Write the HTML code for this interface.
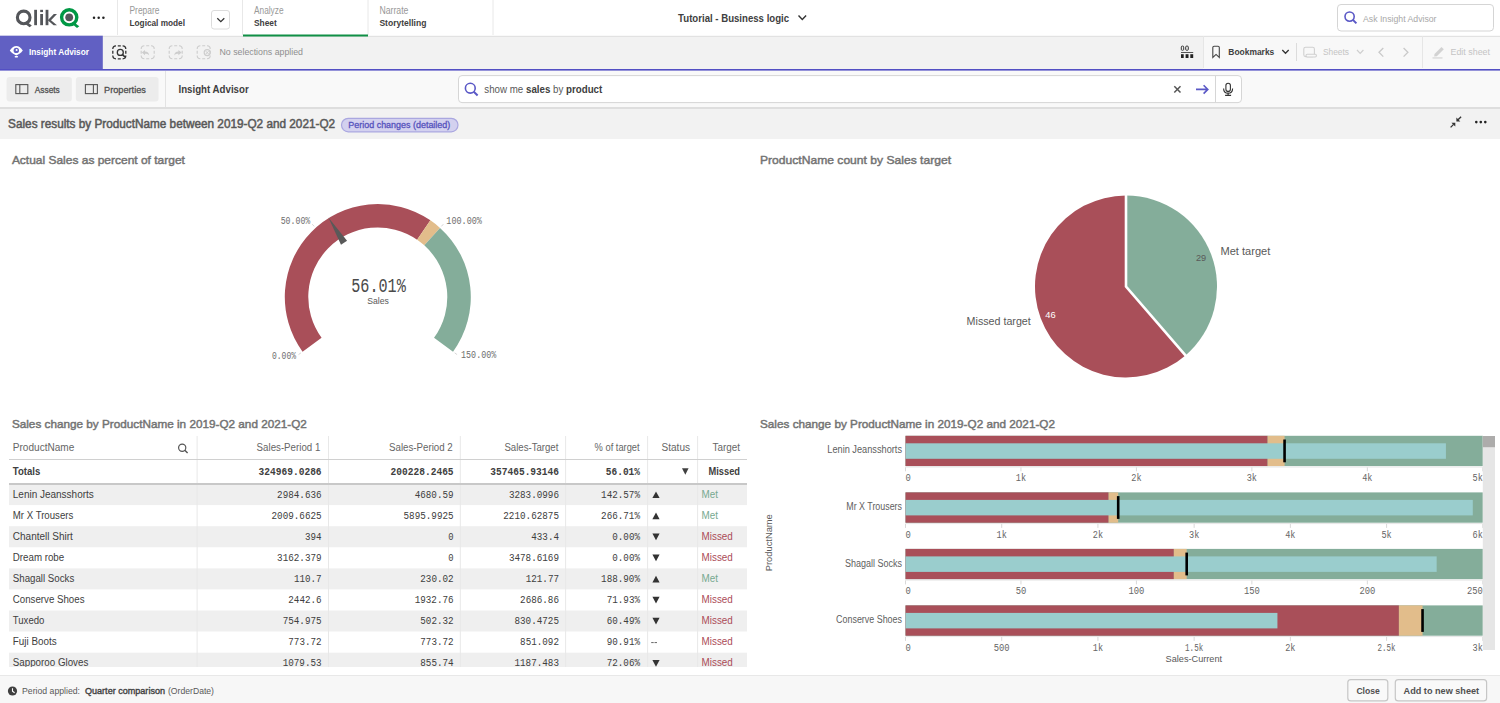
<!DOCTYPE html>
<html><head><meta charset="utf-8"><style>
html,body{margin:0;padding:0;width:1500px;height:703px;overflow:hidden;background:#fff}
svg{display:block;font-family:"Liberation Sans",sans-serif}
</style></head><body>
<svg width="1500" height="703" viewBox="0 0 1500 703">
<rect x="0" y="0" width="1500" height="35" fill="#fff" />
<rect x="0" y="35.8" width="1500" height="1.2" fill="#e2e2e2" />
<g fill="#54565a">
<circle cx="23.7" cy="17.4" r="6.3" fill="none" stroke="#54565a" stroke-width="3.1"/>
<path d="M26.5 21.5 L31.8 25.6 L29.6 27.2 L24.6 23.4Z"/>
<rect x="34.2" y="9.8" width="2.8" height="15.4"/>
<rect x="40.2" y="14" width="2.8" height="11.2"/>
<rect x="40.2" y="9.8" width="2.8" height="2.3"/>
<rect x="45.6" y="9.8" width="2.8" height="15.4"/>
<path d="M48 20 L53.8 14 L57 14 L51 20.2 L57 25.2 L53.6 25.2 L48 20.6Z"/>
</g>
<circle cx="69.2" cy="17.3" r="7.6" fill="none" stroke="#009845" stroke-width="3.4"/>
<circle cx="69.2" cy="17.3" r="3.9" fill="#54565a"/>
<path d="M73.5 22 L79.3 26.3 L77 28 L71.5 23.6Z" fill="#009845"/>
<g fill="#222"><circle cx="94" cy="17.8" r="1.25"/><circle cx="98.7" cy="17.8" r="1.25"/><circle cx="103.4" cy="17.8" r="1.25"/></g>
<line x1="117.5" y1="0" x2="117.5" y2="35" stroke="#e8e8e8" stroke-width="1" />
<line x1="242.5" y1="0" x2="242.5" y2="35" stroke="#e8e8e8" stroke-width="1" />
<line x1="368" y1="0" x2="368" y2="35" stroke="#e8e8e8" stroke-width="1" />
<line x1="493" y1="0" x2="493" y2="35" stroke="#e8e8e8" stroke-width="1" />
<text x="129.5" y="14" font-size="10.2" fill="#999" textLength="30" lengthAdjust="spacingAndGlyphs" >Prepare</text>
<text x="129.5" y="26" font-size="9.5" fill="#404040" font-weight="bold" textLength="55.5" lengthAdjust="spacingAndGlyphs" >Logical model</text>
<rect x="211.5" y="10.5" width="18" height="18.5" rx="2.5" fill="#fff" stroke="#dcdcdc"/>
<path d="M217.3 18.2 L220.8 21.6 L224.3 18.2" fill="none" stroke="#333" stroke-width="1.3"/>
<text x="254" y="14" font-size="10.2" fill="#999" textLength="29.5" lengthAdjust="spacingAndGlyphs" >Analyze</text>
<text x="254" y="26.2" font-size="9.5" fill="#404040" font-weight="bold" textLength="22.8" lengthAdjust="spacingAndGlyphs" >Sheet</text>
<rect x="243" y="34.5" width="125" height="2" fill="#109046" />
<text x="379.4" y="14" font-size="10.2" fill="#999" textLength="29" lengthAdjust="spacingAndGlyphs" >Narrate</text>
<text x="379.4" y="26.2" font-size="9.5" fill="#404040" font-weight="bold" textLength="47" lengthAdjust="spacingAndGlyphs" >Storytelling</text>
<text x="678.1" y="21.5" font-size="10.5" fill="#404040" font-weight="bold" textLength="111" lengthAdjust="spacingAndGlyphs" >Tutorial - Business logic</text>
<path d="M798.5 15.6 L802.3 19.6 L806.1 15.6" fill="none" stroke="#333" stroke-width="1.4"/>
<rect x="1337.5" y="4.5" width="156" height="26.5" rx="3.5" fill="#fff" stroke="#d5d5d5"/>
<circle cx="1349.6" cy="16.6" r="4.6" fill="none" stroke="#5a58c6" stroke-width="1.6"/><path d="M1352.9 19.9 L1356.4 23.4" stroke="#5a58c6" stroke-width="2"/>
<text x="1363" y="21.5" font-size="9.5" fill="#a8a8a8" textLength="73.5" lengthAdjust="spacingAndGlyphs" >Ask Insight Advisor</text>
<rect x="0" y="37" width="1500" height="32" fill="#f2f2f2" />
<rect x="1203" y="37" width="297" height="32" fill="#f8f8f8" />
<line x1="1203.5" y1="36" x2="1203.5" y2="68" stroke="#e6e6e6" stroke-width="1" />
<rect x="0" y="35.7" width="102.8" height="33.3" fill="#6160c3" />
<path d="M9.8 50.6 C12 47.3 14 46 16.3 46 C18.6 46 20.6 47.3 22.8 50.6 C21 53 18.8 54.6 16.3 55.4 C13.8 54.6 11.6 53 9.8 50.6Z" fill="#fff"/><circle cx="16.3" cy="50.4" r="2.7" fill="#6160c3"/><circle cx="16.6" cy="50.1" r="1" fill="#fff"/><rect x="14.6" y="55.9" width="3.5" height="1.6" rx="0.8" fill="#fff"/>
<text x="29" y="55.2" font-size="9.6" fill="#fff" font-weight="bold" textLength="60" lengthAdjust="spacingAndGlyphs" >Insight Advisor</text>
<rect x="0" y="69" width="1500" height="2" fill="#534fc4" />
<path d="M112.8 49.0 Q112.8 45.8 116.0 45.8 M117.8 45.8 L120.8 45.8 M122.6 45.8 Q125.8 45.8 125.8 49.0 M125.8 50.8 L125.8 53.8 M125.8 55.599999999999994 Q125.8 58.8 122.6 58.8 M120.8 58.8 L117.8 58.8 M116.0 58.8 Q112.8 58.8 112.8 55.599999999999994 M112.8 53.8 L112.8 50.8" fill="none" stroke="#333" stroke-width="1.3"/>
<circle cx="120.3" cy="52.4" r="3" fill="none" stroke="#333" stroke-width="1.3"/><path d="M122.5 54.6 L125 57" stroke="#333" stroke-width="1.6"/>
<path d="M141.2 49.0 Q141.2 45.8 144.39999999999998 45.8 M146.2 45.8 L149.2 45.8 M151.0 45.8 Q154.2 45.8 154.2 49.0 M154.2 50.8 L154.2 53.8 M154.2 55.599999999999994 Q154.2 58.8 151.0 58.8 M149.2 58.8 L146.2 58.8 M144.39999999999998 58.8 Q141.2 58.8 141.2 55.599999999999994 M141.2 53.8 L141.2 50.8" fill="none" stroke="#cdcdcd" stroke-width="1.1"/>
<path d="M141.8 52.6 L145 50 L145 51.6 C147.5 51.8 149 53 149.2 55.4 C148 54.2 146.8 53.8 145 53.8 L145 55.2Z" fill="#cdcdcd"/>
<path d="M169.2 49.0 Q169.2 45.8 172.39999999999998 45.8 M174.2 45.8 L177.2 45.8 M179.0 45.8 Q182.2 45.8 182.2 49.0 M182.2 50.8 L182.2 53.8 M182.2 55.599999999999994 Q182.2 58.8 179.0 58.8 M177.2 58.8 L174.2 58.8 M172.39999999999998 58.8 Q169.2 58.8 169.2 55.599999999999994 M169.2 53.8 L169.2 50.8" fill="none" stroke="#cdcdcd" stroke-width="1.1"/>
<path d="M181.6 52.6 L178.4 50 L178.4 51.6 C175.9 51.8 174.4 53 174.2 55.4 C175.4 54.2 176.6 53.8 178.4 53.8 L178.4 55.2Z" fill="#cdcdcd"/>
<path d="M197.2 49.0 Q197.2 45.8 200.39999999999998 45.8 M202.2 45.8 L205.2 45.8 M207.0 45.8 Q210.2 45.8 210.2 49.0 M210.2 50.8 L210.2 53.8 M210.2 55.599999999999994 Q210.2 58.8 207.0 58.8 M205.2 58.8 L202.2 58.8 M200.39999999999998 58.8 Q197.2 58.8 197.2 55.599999999999994 M197.2 53.8 L197.2 50.8" fill="none" stroke="#cdcdcd" stroke-width="1.1"/>
<circle cx="207.2" cy="52.6" r="3" fill="none" stroke="#cdcdcd" stroke-width="1.2"/><path d="M205.8 51.2 L208.6 54 M208.6 51.2 L205.8 54" stroke="#cdcdcd" stroke-width="1"/>
<text x="219.5" y="55.4" font-size="9.3" fill="#8f8f8f" textLength="83.5" lengthAdjust="spacingAndGlyphs" >No selections applied</text>
<rect x="1181.3" y="46.1" width="2.4" height="4.2" rx="1" fill="none" stroke="#333" stroke-width="1"/><rect x="1185.7" y="46.1" width="2.6" height="4.2" rx="1" fill="none" stroke="#333" stroke-width="1"/><rect x="1181" y="52" width="12.2" height="0.9" fill="#444"/><rect x="1181" y="54.2" width="2.7" height="3.8" fill="#222"/><rect x="1185.6" y="54.2" width="2.9" height="3.8" fill="#222"/><rect x="1190.3" y="54.2" width="2.9" height="3.8" fill="#222"/>
<path d="M1212.8 57.4 L1212.8 47.6 Q1212.8 46.3 1214.1 46.3 L1218 46.3 Q1219.3 46.3 1219.3 47.6 L1219.3 57.4 L1216.05 54.4Z" fill="none" stroke="#444" stroke-width="1.1" stroke-linejoin="miter"/>
<text x="1228.3" y="54.7" font-size="9.6" fill="#404040" font-weight="bold" textLength="46" lengthAdjust="spacingAndGlyphs" >Bookmarks</text>
<path d="M1282.3 50 L1285.5 53.3 L1288.7 50" fill="none" stroke="#333" stroke-width="1.3"/>
<line x1="1296.5" y1="43" x2="1296.5" y2="61" stroke="#dcdcdc" stroke-width="1" />
<rect x="1303.8" y="47.2" width="10.6" height="9.4" rx="1.8" fill="none" stroke="#d0d0d0" stroke-width="1.1"/><rect x="1306" y="54.2" width="10.4" height="2.8" rx="1.2" fill="#f8f8f8" stroke="#d0d0d0" stroke-width="1.1"/>
<text x="1323" y="54.7" font-size="9.6" fill="#c4c4c4" textLength="26" lengthAdjust="spacingAndGlyphs" >Sheets</text>
<path d="M1357 50 L1360.2 53.3 L1363.4 50" fill="none" stroke="#cfcfcf" stroke-width="1.2"/>
<path d="M1383.3 48 L1379 52.3 L1383.3 56.6" fill="none" stroke="#c9c9c9" stroke-width="1.3"/>
<path d="M1403.6 48 L1407.9 52.3 L1403.6 56.6" fill="none" stroke="#c9c9c9" stroke-width="1.3"/>
<line x1="1422.5" y1="36" x2="1422.5" y2="68" stroke="#e6e6e6" stroke-width="1" />
<path d="M1434.5 54 L1441.5 47 L1443.8 49.3 L1436.8 56.3 L1434.2 56.6Z" fill="#d2d2d2"/><rect x="1432.5" y="57.4" width="10" height="1.1" fill="#d2d2d2"/>
<text x="1450.5" y="54.7" font-size="9.6" fill="#c4c4c4" textLength="39.5" lengthAdjust="spacingAndGlyphs" >Edit sheet</text>
<rect x="0" y="70.6" width="1500" height="37" fill="#f9f9f9" />
<rect x="0" y="107" width="1500" height="2" fill="#dedede" />
<rect x="6.6" y="76.9" width="65.3" height="24.6" rx="3" fill="#ececec"/>
<rect x="15.8" y="84.6" width="12" height="9" fill="none" stroke="#555" stroke-width="1.1"/><line x1="19.8" y1="84.6" x2="19.8" y2="93.6" stroke="#555" stroke-width="1.1"/>
<text x="34.7" y="92.5" font-size="9.8" fill="#505050" textLength="25.1" lengthAdjust="spacingAndGlyphs" stroke="#505050" stroke-width="0.3">Assets</text>
<rect x="75.9" y="76.9" width="82.7" height="24.6" rx="3" fill="#ececec"/>
<rect x="85.4" y="84.6" width="12" height="9" fill="none" stroke="#555" stroke-width="1.1"/><line x1="93.4" y1="84.6" x2="93.4" y2="93.6" stroke="#555" stroke-width="1.1"/>
<text x="104" y="92.5" font-size="9.8" fill="#505050" textLength="41.9" lengthAdjust="spacingAndGlyphs" stroke="#505050" stroke-width="0.3">Properties</text>
<line x1="165.5" y1="71" x2="165.5" y2="107" stroke="#e3e3e3" stroke-width="1" />
<text x="178.5" y="93.1" font-size="10.2" fill="#404040" font-weight="bold" textLength="70.2" lengthAdjust="spacingAndGlyphs" >Insight Advisor</text>
<rect x="458.5" y="75.6" width="783" height="27" rx="3.5" fill="#fff" stroke="#d6d6d6"/>
<line x1="1215.5" y1="76" x2="1215.5" y2="102.5" stroke="#d6d6d6" stroke-width="1" />
<circle cx="470.3" cy="88.2" r="4.9" fill="none" stroke="#5a58c6" stroke-width="1.6"/><path d="M473.8 91.7 L477.6 95.5" stroke="#5a58c6" stroke-width="2"/>
<text x="484.3" y="93.3" font-size="11" fill="#595959" textLength="118" lengthAdjust="spacingAndGlyphs">show me <tspan font-weight="bold" fill="#404040">sales</tspan> by <tspan font-weight="bold" fill="#404040">product</tspan></text>
<path d="M1174.3 86.3 L1180.5 92.5 M1180.5 86.3 L1174.3 92.5" stroke="#555" stroke-width="1.5"/>
<path d="M1196 89.4 L1207.8 89.4 M1203.6 85.2 L1207.8 89.4 L1203.6 93.6" fill="none" stroke="#5a58c6" stroke-width="1.6"/>
<rect x="1225.9" y="83.2" width="4.5" height="8.2" rx="2.25" fill="none" stroke="#333" stroke-width="1.1"/><path d="M1223.6 88.4 C1223.6 91.8 1225.5 93.1 1228.1 93.1 C1230.7 93.1 1232.6 91.8 1232.6 88.4" fill="none" stroke="#333" stroke-width="1.1"/><path d="M1228.1 93.1 L1228.1 95 M1225.1 95.4 L1231.1 95.4" stroke="#333" stroke-width="1.2"/>
<rect x="0" y="109" width="1500" height="30" fill="#f2f2f2" />
<text x="8.1" y="128.3" font-size="12" fill="#595959" textLength="327" lengthAdjust="spacingAndGlyphs" stroke="#595959" stroke-width="0.5">Sales results by ProductName between 2019-Q2 and 2021-Q2</text>
<rect x="341.5" y="118.3" width="116.5" height="13.5" rx="6.75" fill="#d3d1ef" stroke="#aaa7e0" stroke-width="1.2"/>
<text x="348.3" y="128.2" font-size="9" fill="#5653bd" textLength="102" lengthAdjust="spacingAndGlyphs" stroke="#5653bd" stroke-width="0.3">Period changes (detailed)</text>
<path d="M1451.4 122.7 L1455.3 122.7 L1455.3 126.6Z" fill="#333"/><path d="M1450.6 127.4 L1453.6 124.4" stroke="#333" stroke-width="1.3"/>
<path d="M1456.4 121.4 L1456.4 117.5 L1460.3 121.4Z" fill="#333"/><path d="M1458 119.8 L1461.1 116.7" stroke="#333" stroke-width="1.3"/>
<g fill="#222"><circle cx="1476.3" cy="122.1" r="1.3"/><circle cx="1480.8" cy="122.1" r="1.3"/><circle cx="1485.3" cy="122.1" r="1.3"/></g>
<text x="11.9" y="164.2" font-size="11.5" fill="#737373" textLength="173" lengthAdjust="spacingAndGlyphs" stroke="#737373" stroke-width="0.45">Actual Sales as percent of target</text>
<text x="760" y="164.2" font-size="11.5" fill="#737373" textLength="191" lengthAdjust="spacingAndGlyphs" stroke="#737373" stroke-width="0.45">ProductName count by Sales target</text>
<text x="11.9" y="428.2" font-size="11.5" fill="#737373" textLength="295" lengthAdjust="spacingAndGlyphs" stroke="#737373" stroke-width="0.45">Sales change by ProductName in 2019-Q2 and 2021-Q2</text>
<text x="760" y="428.2" font-size="11.5" fill="#737373" textLength="295" lengthAdjust="spacingAndGlyphs" stroke="#737373" stroke-width="0.45">Sales change by ProductName in 2019-Q2 and 2021-Q2</text>
<path d="M302.56 351.66 A93 93 0 0 1 430.40 220.30 L417.11 239.68 A69.5 69.5 0 0 0 321.57 337.85Z" fill="#a94f59"/>
<path d="M430.40 220.30 A93 93 0 0 1 440.03 227.89 L424.30 245.35 A69.5 69.5 0 0 0 417.11 239.68Z" fill="#e2bd8b"/>
<path d="M440.03 227.89 A93 93 0 0 1 453.04 351.66 L434.03 337.85 A69.5 69.5 0 0 0 424.30 245.35Z" fill="#84ad9a"/>
<path d="M328.39 217.62 L341.00 244.64 L347.06 240.86Z" fill="#595959"/>
<path d="M300.94 352.84 L298.52 354.60" stroke="#ccc" stroke-width="0.8"/>
<path d="M314.23 226.40 L312.23 224.17" stroke="#ccc" stroke-width="0.8"/>
<path d="M441.37 226.40 L443.37 224.17" stroke="#ccc" stroke-width="0.8"/>
<path d="M454.66 352.84 L457.08 354.60" stroke="#ccc" stroke-width="0.8"/>
<text x="351.2" y="291.9" font-size="19.5" fill="#4a4a4a" textLength="54.6" lengthAdjust="spacingAndGlyphs" font-family="Liberation Mono" >56.01%</text>
<text x="367.2" y="303.8" font-size="9.4" fill="#595959" textLength="21.6" lengthAdjust="spacingAndGlyphs" >Sales</text>
<text x="272" y="358.6" font-size="11.2" fill="#6e6e6e" textLength="24" lengthAdjust="spacingAndGlyphs" font-family="Liberation Mono" >0.00%</text>
<text x="280.7" y="223.7" font-size="11.2" fill="#6e6e6e" textLength="29.6" lengthAdjust="spacingAndGlyphs" font-family="Liberation Mono" >50.00%</text>
<text x="446.3" y="223.7" font-size="11.2" fill="#6e6e6e" textLength="35.6" lengthAdjust="spacingAndGlyphs" font-family="Liberation Mono" >100.00%</text>
<text x="461.1" y="357.6" font-size="11.2" fill="#6e6e6e" textLength="35.1" lengthAdjust="spacingAndGlyphs" font-family="Liberation Mono" >150.00%</text>
<path d="M1126 286.5 L1126 195.5 A91 91 0 0 1 1185.46 355.39Z" fill="#84ad9a"/>
<path d="M1126 286.5 L1185.46 355.39 A91 91 0 1 1 1126 195.5Z" fill="#a94f59"/>
<path d="M1126 193.5 L1126 286.5 L1186.77 356.90" fill="none" stroke="#fff" stroke-width="2.6"/>
<text x="1220.5" y="254.5" font-size="10.8" fill="#595959" textLength="49.8" lengthAdjust="spacingAndGlyphs" >Met target</text>
<text x="966.6" y="324.8" font-size="10.8" fill="#595959" textLength="64.2" lengthAdjust="spacingAndGlyphs" >Missed target</text>
<text x="1196" y="260.7" font-size="8.6" fill="#595959" textLength="10.2" lengthAdjust="spacingAndGlyphs" >29</text>
<text x="1045.3" y="317.6" font-size="8.6" fill="#fff" textLength="10.4" lengthAdjust="spacingAndGlyphs" >46</text>
<rect x="9" y="484.1" width="738" height="21" fill="#efefef" />
<rect x="9" y="526.24" width="738" height="21" fill="#efefef" />
<rect x="9" y="568.38" width="738" height="21" fill="#efefef" />
<rect x="9" y="610.52" width="738" height="21" fill="#efefef" />
<rect x="9" y="652.66" width="738" height="21" fill="#efefef" />
<line x1="197.1" y1="436" x2="197.1" y2="667" stroke="#e8e8e8" stroke-width="1" />
<line x1="328.5" y1="436" x2="328.5" y2="667" stroke="#e8e8e8" stroke-width="1" />
<line x1="460.3" y1="436" x2="460.3" y2="667" stroke="#e8e8e8" stroke-width="1" />
<line x1="565.6" y1="436" x2="565.6" y2="667" stroke="#e8e8e8" stroke-width="1" />
<line x1="647.6" y1="436" x2="647.6" y2="667" stroke="#e8e8e8" stroke-width="1" />
<line x1="697.6" y1="436" x2="697.6" y2="667" stroke="#e8e8e8" stroke-width="1" />
<line x1="9" y1="459.5" x2="747" y2="459.5" stroke="#d0d0d0" stroke-width="1" />
<text x="12.8" y="451.2" font-size="10" fill="#666" textLength="61.5" lengthAdjust="spacingAndGlyphs" >ProductName</text>
<circle cx="182.2" cy="447.7" r="3.6" fill="none" stroke="#555" stroke-width="1.2"/><path d="M184.8 450.3 L187.6 453.1" stroke="#555" stroke-width="1.4"/>
<text x="320.3" y="451.2" font-size="10" fill="#666" textLength="63.7" lengthAdjust="spacingAndGlyphs" text-anchor="end" >Sales-Period 1</text>
<text x="452.7" y="451.2" font-size="10" fill="#666" textLength="63.7" lengthAdjust="spacingAndGlyphs" text-anchor="end" >Sales-Period 2</text>
<text x="558.4" y="451.2" font-size="10" fill="#666" textLength="54" lengthAdjust="spacingAndGlyphs" text-anchor="end" >Sales-Target</text>
<text x="639.6" y="451.2" font-size="10" fill="#666" textLength="45" lengthAdjust="spacingAndGlyphs" text-anchor="end" >% of target</text>
<text x="690" y="451.2" font-size="10" fill="#666" textLength="28.5" lengthAdjust="spacingAndGlyphs" text-anchor="end" >Status</text>
<text x="740" y="451.2" font-size="10" fill="#666" textLength="27.5" lengthAdjust="spacingAndGlyphs" text-anchor="end" >Target</text>
<text x="12.8" y="475.4" font-size="10" fill="#404040" font-weight="bold" textLength="27.5" lengthAdjust="spacingAndGlyphs" >Totals</text>
<text x="321.6" y="475.4" font-size="11.6" fill="#404040" font-weight="bold" textLength="63.0" lengthAdjust="spacingAndGlyphs" text-anchor="end" font-family="Liberation Mono" >324969.0286</text>
<text x="453.6" y="475.4" font-size="11.6" fill="#404040" font-weight="bold" textLength="63.0" lengthAdjust="spacingAndGlyphs" text-anchor="end" font-family="Liberation Mono" >200228.2465</text>
<text x="559" y="475.4" font-size="11.6" fill="#404040" font-weight="bold" textLength="68.7" lengthAdjust="spacingAndGlyphs" text-anchor="end" font-family="Liberation Mono" >357465.93146</text>
<text x="640" y="475.4" font-size="11.6" fill="#404040" font-weight="bold" textLength="34.2" lengthAdjust="spacingAndGlyphs" text-anchor="end" font-family="Liberation Mono" >56.01%</text>
<path d="M682 468.3 L688.6 468.3 L685.3 474.8Z" fill="#404040"/>
<text x="740" y="475.4" font-size="10" fill="#404040" font-weight="bold" textLength="31.5" lengthAdjust="spacingAndGlyphs" text-anchor="end" >Missed</text>
<rect x="9" y="483" width="738" height="2" fill="#c8c8c8" />

<text x="12.8" y="497.9" font-size="10" fill="#404040" textLength="81" lengthAdjust="spacingAndGlyphs" >Lenin Jeansshorts</text>
<text x="321.6" y="497.9" font-size="11.4" fill="#404040" textLength="44.5" lengthAdjust="spacingAndGlyphs" text-anchor="end" font-family="Liberation Mono" >2984.636</text>
<text x="453.6" y="497.9" font-size="11.4" fill="#404040" textLength="38.9" lengthAdjust="spacingAndGlyphs" text-anchor="end" font-family="Liberation Mono" >4680.59</text>
<text x="559" y="497.9" font-size="11.4" fill="#404040" textLength="50.1" lengthAdjust="spacingAndGlyphs" text-anchor="end" font-family="Liberation Mono" >3283.0996</text>
<text x="640" y="497.9" font-size="11.4" fill="#404040" textLength="38.9" lengthAdjust="spacingAndGlyphs" text-anchor="end" font-family="Liberation Mono" >142.57%</text>
<path d="M652.4 498.1 L659.6 498.1 L656 491.40000000000003Z" fill="#333"/>
<text x="701.6" y="497.9" font-size="10" fill="#76a98f" textLength="16.4" lengthAdjust="spacingAndGlyphs" >Met</text>
<text x="12.8" y="518.97" font-size="10" fill="#404040" textLength="60.5" lengthAdjust="spacingAndGlyphs" >Mr X Trousers</text>
<text x="321.6" y="518.97" font-size="11.4" fill="#404040" textLength="50.1" lengthAdjust="spacingAndGlyphs" text-anchor="end" font-family="Liberation Mono" >2009.6625</text>
<text x="453.6" y="518.97" font-size="11.4" fill="#404040" textLength="50.1" lengthAdjust="spacingAndGlyphs" text-anchor="end" font-family="Liberation Mono" >5895.9925</text>
<text x="559" y="518.97" font-size="11.4" fill="#404040" textLength="55.7" lengthAdjust="spacingAndGlyphs" text-anchor="end" font-family="Liberation Mono" >2210.62875</text>
<text x="640" y="518.97" font-size="11.4" fill="#404040" textLength="38.9" lengthAdjust="spacingAndGlyphs" text-anchor="end" font-family="Liberation Mono" >266.71%</text>
<path d="M652.4 519.1700000000001 L659.6 519.1700000000001 L656 512.47Z" fill="#333"/>
<text x="701.6" y="518.97" font-size="10" fill="#76a98f" textLength="16.4" lengthAdjust="spacingAndGlyphs" >Met</text>
<text x="12.8" y="540.04" font-size="10" fill="#404040" textLength="60" lengthAdjust="spacingAndGlyphs" >Chantell Shirt</text>
<text x="321.6" y="540.04" font-size="11.4" fill="#404040" textLength="16.5" lengthAdjust="spacingAndGlyphs" text-anchor="end" font-family="Liberation Mono" >394</text>
<text x="453.6" y="540.04" font-size="11.4" fill="#404040" textLength="5.3" lengthAdjust="spacingAndGlyphs" text-anchor="end" font-family="Liberation Mono" >0</text>
<text x="559" y="540.04" font-size="11.4" fill="#404040" textLength="27.7" lengthAdjust="spacingAndGlyphs" text-anchor="end" font-family="Liberation Mono" >433.4</text>
<text x="640" y="540.04" font-size="11.4" fill="#404040" textLength="27.7" lengthAdjust="spacingAndGlyphs" text-anchor="end" font-family="Liberation Mono" >0.00%</text>
<path d="M652.4 533.54 L659.6 533.54 L656 540.24Z" fill="#333"/>
<text x="701.6" y="540.04" font-size="10" fill="#ab4b58" textLength="31.2" lengthAdjust="spacingAndGlyphs" >Missed</text>
<text x="12.8" y="561.11" font-size="10" fill="#404040" textLength="51.4" lengthAdjust="spacingAndGlyphs" >Dream robe</text>
<text x="321.6" y="561.11" font-size="11.4" fill="#404040" textLength="44.5" lengthAdjust="spacingAndGlyphs" text-anchor="end" font-family="Liberation Mono" >3162.379</text>
<text x="453.6" y="561.11" font-size="11.4" fill="#404040" textLength="5.3" lengthAdjust="spacingAndGlyphs" text-anchor="end" font-family="Liberation Mono" >0</text>
<text x="559" y="561.11" font-size="11.4" fill="#404040" textLength="50.1" lengthAdjust="spacingAndGlyphs" text-anchor="end" font-family="Liberation Mono" >3478.6169</text>
<text x="640" y="561.11" font-size="11.4" fill="#404040" textLength="27.7" lengthAdjust="spacingAndGlyphs" text-anchor="end" font-family="Liberation Mono" >0.00%</text>
<path d="M652.4 554.6099999999999 L659.6 554.6099999999999 L656 561.31Z" fill="#333"/>
<text x="701.6" y="561.11" font-size="10" fill="#ab4b58" textLength="31.2" lengthAdjust="spacingAndGlyphs" >Missed</text>
<text x="12.8" y="582.18" font-size="10" fill="#404040" textLength="61.5" lengthAdjust="spacingAndGlyphs" >Shagall Socks</text>
<text x="321.6" y="582.18" font-size="11.4" fill="#404040" textLength="27.7" lengthAdjust="spacingAndGlyphs" text-anchor="end" font-family="Liberation Mono" >110.7</text>
<text x="453.6" y="582.18" font-size="11.4" fill="#404040" textLength="33.3" lengthAdjust="spacingAndGlyphs" text-anchor="end" font-family="Liberation Mono" >230.02</text>
<text x="559" y="582.18" font-size="11.4" fill="#404040" textLength="33.3" lengthAdjust="spacingAndGlyphs" text-anchor="end" font-family="Liberation Mono" >121.77</text>
<text x="640" y="582.18" font-size="11.4" fill="#404040" textLength="38.9" lengthAdjust="spacingAndGlyphs" text-anchor="end" font-family="Liberation Mono" >188.90%</text>
<path d="M652.4 582.38 L659.6 582.38 L656 575.68Z" fill="#333"/>
<text x="701.6" y="582.18" font-size="10" fill="#76a98f" textLength="16.4" lengthAdjust="spacingAndGlyphs" >Met</text>
<text x="12.8" y="603.25" font-size="10" fill="#404040" textLength="71.7" lengthAdjust="spacingAndGlyphs" >Conserve Shoes</text>
<text x="321.6" y="603.25" font-size="11.4" fill="#404040" textLength="33.3" lengthAdjust="spacingAndGlyphs" text-anchor="end" font-family="Liberation Mono" >2442.6</text>
<text x="453.6" y="603.25" font-size="11.4" fill="#404040" textLength="38.9" lengthAdjust="spacingAndGlyphs" text-anchor="end" font-family="Liberation Mono" >1932.76</text>
<text x="559" y="603.25" font-size="11.4" fill="#404040" textLength="38.9" lengthAdjust="spacingAndGlyphs" text-anchor="end" font-family="Liberation Mono" >2686.86</text>
<text x="640" y="603.25" font-size="11.4" fill="#404040" textLength="33.3" lengthAdjust="spacingAndGlyphs" text-anchor="end" font-family="Liberation Mono" >71.93%</text>
<path d="M652.4 596.75 L659.6 596.75 L656 603.45Z" fill="#333"/>
<text x="701.6" y="603.25" font-size="10" fill="#ab4b58" textLength="31.2" lengthAdjust="spacingAndGlyphs" >Missed</text>
<text x="12.8" y="624.32" font-size="10" fill="#404040" textLength="31.6" lengthAdjust="spacingAndGlyphs" >Tuxedo</text>
<text x="321.6" y="624.32" font-size="11.4" fill="#404040" textLength="38.9" lengthAdjust="spacingAndGlyphs" text-anchor="end" font-family="Liberation Mono" >754.975</text>
<text x="453.6" y="624.32" font-size="11.4" fill="#404040" textLength="33.3" lengthAdjust="spacingAndGlyphs" text-anchor="end" font-family="Liberation Mono" >502.32</text>
<text x="559" y="624.32" font-size="11.4" fill="#404040" textLength="44.5" lengthAdjust="spacingAndGlyphs" text-anchor="end" font-family="Liberation Mono" >830.4725</text>
<text x="640" y="624.32" font-size="11.4" fill="#404040" textLength="33.3" lengthAdjust="spacingAndGlyphs" text-anchor="end" font-family="Liberation Mono" >60.49%</text>
<path d="M652.4 617.8199999999999 L659.6 617.8199999999999 L656 624.52Z" fill="#333"/>
<text x="701.6" y="624.32" font-size="10" fill="#ab4b58" textLength="31.2" lengthAdjust="spacingAndGlyphs" >Missed</text>
<text x="12.8" y="645.39" font-size="10" fill="#404040" textLength="43.8" lengthAdjust="spacingAndGlyphs" >Fuji Boots</text>
<text x="321.6" y="645.39" font-size="11.4" fill="#404040" textLength="33.3" lengthAdjust="spacingAndGlyphs" text-anchor="end" font-family="Liberation Mono" >773.72</text>
<text x="453.6" y="645.39" font-size="11.4" fill="#404040" textLength="33.3" lengthAdjust="spacingAndGlyphs" text-anchor="end" font-family="Liberation Mono" >773.72</text>
<text x="559" y="645.39" font-size="11.4" fill="#404040" textLength="38.9" lengthAdjust="spacingAndGlyphs" text-anchor="end" font-family="Liberation Mono" >851.092</text>
<text x="640" y="645.39" font-size="11.4" fill="#404040" textLength="33.3" lengthAdjust="spacingAndGlyphs" text-anchor="end" font-family="Liberation Mono" >90.91%</text>
<path d="M651.2 642.59 L653.7 642.59 M654.5 642.59 L657 642.59" stroke="#555" stroke-width="0.9"/>
<text x="701.6" y="645.39" font-size="10" fill="#ab4b58" textLength="31.2" lengthAdjust="spacingAndGlyphs" >Missed</text>
<text x="12.8" y="666.46" font-size="10" fill="#404040" textLength="75.5" lengthAdjust="spacingAndGlyphs" >Sapporoo Gloves</text>
<text x="321.6" y="666.46" font-size="11.4" fill="#404040" textLength="38.9" lengthAdjust="spacingAndGlyphs" text-anchor="end" font-family="Liberation Mono" >1079.53</text>
<text x="453.6" y="666.46" font-size="11.4" fill="#404040" textLength="33.3" lengthAdjust="spacingAndGlyphs" text-anchor="end" font-family="Liberation Mono" >855.74</text>
<text x="559" y="666.46" font-size="11.4" fill="#404040" textLength="44.5" lengthAdjust="spacingAndGlyphs" text-anchor="end" font-family="Liberation Mono" >1187.483</text>
<text x="640" y="666.46" font-size="11.4" fill="#404040" textLength="33.3" lengthAdjust="spacingAndGlyphs" text-anchor="end" font-family="Liberation Mono" >72.06%</text>
<path d="M652.4 659.9599999999999 L659.6 659.9599999999999 L656 666.66Z" fill="#333"/>
<text x="701.6" y="666.46" font-size="10" fill="#ab4b58" textLength="31.2" lengthAdjust="spacingAndGlyphs" >Missed</text>
<rect x="905.5" y="435.8" width="577.3" height="30.3" fill="#84ad9a" />
<rect x="905.5" y="435.8" width="362.08256000000006" height="30.3" fill="#a94f59" />
<rect x="1267.58256" y="435.8" width="16.984119815999975" height="30.3" fill="#e2bd8b" />
<rect x="905.5" y="443.3" width="540.4209214" height="15.5" fill="#9acdcd" />
<rect x="1283.266679816" y="439.5" width="2.6" height="22.8" fill="#000" />
<line x1="905.5" y1="467.0" x2="1482.8" y2="467.0" stroke="#e6e6e6" stroke-width="1" />
<line x1="905.5" y1="467.3" x2="905.5" y2="471.3" stroke="#d9d9d9" stroke-width="1" />
<text x="905.5" y="481.3" font-size="10.5" fill="#666" textLength="5.3" lengthAdjust="spacingAndGlyphs" font-family="Liberation Mono" >0</text>
<line x1="1020.96" y1="467.3" x2="1020.96" y2="471.3" stroke="#d9d9d9" stroke-width="1" />
<text x="1020.96" y="481.3" font-size="10.5" fill="#666" textLength="10.3" lengthAdjust="spacingAndGlyphs" text-anchor="middle" font-family="Liberation Mono" >1k</text>
<line x1="1136.42" y1="467.3" x2="1136.42" y2="471.3" stroke="#d9d9d9" stroke-width="1" />
<text x="1136.42" y="481.3" font-size="10.5" fill="#666" textLength="10.3" lengthAdjust="spacingAndGlyphs" text-anchor="middle" font-family="Liberation Mono" >2k</text>
<line x1="1251.88" y1="467.3" x2="1251.88" y2="471.3" stroke="#d9d9d9" stroke-width="1" />
<text x="1251.88" y="481.3" font-size="10.5" fill="#666" textLength="10.3" lengthAdjust="spacingAndGlyphs" text-anchor="middle" font-family="Liberation Mono" >3k</text>
<line x1="1367.34" y1="467.3" x2="1367.34" y2="471.3" stroke="#d9d9d9" stroke-width="1" />
<text x="1367.34" y="481.3" font-size="10.5" fill="#666" textLength="10.3" lengthAdjust="spacingAndGlyphs" text-anchor="middle" font-family="Liberation Mono" >4k</text>
<line x1="1482.8" y1="467.3" x2="1482.8" y2="471.3" stroke="#d9d9d9" stroke-width="1" />
<text x="1482.8" y="481.3" font-size="10.5" fill="#666" textLength="10.3" lengthAdjust="spacingAndGlyphs" text-anchor="end" font-family="Liberation Mono" >5k</text>
<text x="902" y="453.40000000000003" font-size="10" fill="#606060" textLength="74.7" lengthAdjust="spacingAndGlyphs" text-anchor="end" >Lenin Jeansshorts</text>
<rect x="905.5" y="492.4" width="577.3" height="30.3" fill="#84ad9a" />
<rect x="905.5" y="492.4" width="203.11338333333333" height="30.3" fill="#a94f59" />
<rect x="1108.6133833333333" y="492.4" width="9.585946229166666" height="30.3" fill="#e2bd8b" />
<rect x="905.5" y="499.9" width="567.2927450416666" height="15.5" fill="#9acdcd" />
<rect x="1116.8993295625" y="496.09999999999997" width="2.6" height="22.8" fill="#000" />
<line x1="905.5" y1="523.6" x2="1482.8" y2="523.6" stroke="#e6e6e6" stroke-width="1" />
<line x1="905.5" y1="523.9" x2="905.5" y2="527.9" stroke="#d9d9d9" stroke-width="1" />
<text x="905.5" y="537.9" font-size="10.5" fill="#666" textLength="5.3" lengthAdjust="spacingAndGlyphs" font-family="Liberation Mono" >0</text>
<line x1="1001.7166666666667" y1="523.9" x2="1001.7166666666667" y2="527.9" stroke="#d9d9d9" stroke-width="1" />
<text x="1001.7166666666667" y="537.9" font-size="10.5" fill="#666" textLength="10.3" lengthAdjust="spacingAndGlyphs" text-anchor="middle" font-family="Liberation Mono" >1k</text>
<line x1="1097.9333333333334" y1="523.9" x2="1097.9333333333334" y2="527.9" stroke="#d9d9d9" stroke-width="1" />
<text x="1097.9333333333334" y="537.9" font-size="10.5" fill="#666" textLength="10.3" lengthAdjust="spacingAndGlyphs" text-anchor="middle" font-family="Liberation Mono" >2k</text>
<line x1="1194.15" y1="523.9" x2="1194.15" y2="527.9" stroke="#d9d9d9" stroke-width="1" />
<text x="1194.15" y="537.9" font-size="10.5" fill="#666" textLength="10.3" lengthAdjust="spacingAndGlyphs" text-anchor="middle" font-family="Liberation Mono" >3k</text>
<line x1="1290.3666666666666" y1="523.9" x2="1290.3666666666666" y2="527.9" stroke="#d9d9d9" stroke-width="1" />
<text x="1290.3666666666666" y="537.9" font-size="10.5" fill="#666" textLength="10.3" lengthAdjust="spacingAndGlyphs" text-anchor="middle" font-family="Liberation Mono" >4k</text>
<line x1="1386.5833333333333" y1="523.9" x2="1386.5833333333333" y2="527.9" stroke="#d9d9d9" stroke-width="1" />
<text x="1386.5833333333333" y="537.9" font-size="10.5" fill="#666" textLength="10.3" lengthAdjust="spacingAndGlyphs" text-anchor="middle" font-family="Liberation Mono" >5k</text>
<line x1="1482.8" y1="523.9" x2="1482.8" y2="527.9" stroke="#d9d9d9" stroke-width="1" />
<text x="1482.8" y="537.9" font-size="10.5" fill="#666" textLength="10.3" lengthAdjust="spacingAndGlyphs" text-anchor="end" font-family="Liberation Mono" >6k</text>
<text x="902" y="510.0" font-size="10" fill="#606060" textLength="55.7" lengthAdjust="spacingAndGlyphs" text-anchor="end" >Mr X Trousers</text>
<rect x="905.5" y="548.9" width="577.3" height="30.3" fill="#84ad9a" />
<rect x="905.5" y="548.9" width="268.3290400000001" height="30.3" fill="#a94f59" />
<rect x="1173.82904" y="548.9" width="12.862243999999919" height="30.3" fill="#e2bd8b" />
<rect x="905.5" y="556.4" width="531.1621839999998" height="15.5" fill="#9acdcd" />
<rect x="1185.391284" y="552.6" width="2.6" height="22.8" fill="#000" />
<line x1="905.5" y1="580.1" x2="1482.8" y2="580.1" stroke="#e6e6e6" stroke-width="1" />
<line x1="905.5" y1="580.4" x2="905.5" y2="584.4" stroke="#d9d9d9" stroke-width="1" />
<text x="905.5" y="594.4" font-size="10.5" fill="#666" textLength="5.3" lengthAdjust="spacingAndGlyphs" font-family="Liberation Mono" >0</text>
<line x1="1020.96" y1="580.4" x2="1020.96" y2="584.4" stroke="#d9d9d9" stroke-width="1" />
<text x="1020.96" y="594.4" font-size="10.5" fill="#666" textLength="10.6" lengthAdjust="spacingAndGlyphs" text-anchor="middle" font-family="Liberation Mono" >50</text>
<line x1="1136.42" y1="580.4" x2="1136.42" y2="584.4" stroke="#d9d9d9" stroke-width="1" />
<text x="1136.42" y="594.4" font-size="10.5" fill="#666" textLength="15.899999999999999" lengthAdjust="spacingAndGlyphs" text-anchor="middle" font-family="Liberation Mono" >100</text>
<line x1="1251.8799999999999" y1="580.4" x2="1251.8799999999999" y2="584.4" stroke="#d9d9d9" stroke-width="1" />
<text x="1251.8799999999999" y="594.4" font-size="10.5" fill="#666" textLength="15.899999999999999" lengthAdjust="spacingAndGlyphs" text-anchor="middle" font-family="Liberation Mono" >150</text>
<line x1="1367.34" y1="580.4" x2="1367.34" y2="584.4" stroke="#d9d9d9" stroke-width="1" />
<text x="1367.34" y="594.4" font-size="10.5" fill="#666" textLength="15.899999999999999" lengthAdjust="spacingAndGlyphs" text-anchor="middle" font-family="Liberation Mono" >200</text>
<line x1="1482.8" y1="580.4" x2="1482.8" y2="584.4" stroke="#d9d9d9" stroke-width="1" />
<text x="1482.8" y="594.4" font-size="10.5" fill="#666" textLength="15.899999999999999" lengthAdjust="spacingAndGlyphs" text-anchor="end" font-family="Liberation Mono" >250</text>
<text x="902" y="566.5" font-size="10" fill="#606060" textLength="57" lengthAdjust="spacingAndGlyphs" text-anchor="end" >Shagall Socks</text>
<rect x="905.5" y="605.4" width="577.3" height="30.3" fill="#84ad9a" />
<rect x="905.5" y="605.4" width="493.3990666666666" height="30.3" fill="#a94f59" />
<rect x="1398.8990666666666" y="605.4" width="23.64235933333339" height="30.3" fill="#e2bd8b" />
<rect x="905.5" y="612.9" width="371.92744933333324" height="15.5" fill="#9acdcd" />
<rect x="1421.241426" y="609.1" width="2.6" height="22.8" fill="#000" />
<line x1="905.5" y1="636.6" x2="1482.8" y2="636.6" stroke="#e6e6e6" stroke-width="1" />
<line x1="905.5" y1="636.9" x2="905.5" y2="640.9" stroke="#d9d9d9" stroke-width="1" />
<text x="905.5" y="650.9" font-size="10.5" fill="#666" textLength="5.3" lengthAdjust="spacingAndGlyphs" font-family="Liberation Mono" >0</text>
<line x1="1001.7166666666667" y1="636.9" x2="1001.7166666666667" y2="640.9" stroke="#d9d9d9" stroke-width="1" />
<text x="1001.7166666666667" y="650.9" font-size="10.5" fill="#666" textLength="15.899999999999999" lengthAdjust="spacingAndGlyphs" text-anchor="middle" font-family="Liberation Mono" >500</text>
<line x1="1097.9333333333334" y1="636.9" x2="1097.9333333333334" y2="640.9" stroke="#d9d9d9" stroke-width="1" />
<text x="1097.9333333333334" y="650.9" font-size="10.5" fill="#666" textLength="10.3" lengthAdjust="spacingAndGlyphs" text-anchor="middle" font-family="Liberation Mono" >1k</text>
<line x1="1194.15" y1="636.9" x2="1194.15" y2="640.9" stroke="#d9d9d9" stroke-width="1" />
<text x="1194.15" y="650.9" font-size="10.5" fill="#666" textLength="18.1" lengthAdjust="spacingAndGlyphs" text-anchor="middle" font-family="Liberation Mono" >1.5k</text>
<line x1="1290.3666666666666" y1="636.9" x2="1290.3666666666666" y2="640.9" stroke="#d9d9d9" stroke-width="1" />
<text x="1290.3666666666666" y="650.9" font-size="10.5" fill="#666" textLength="10.3" lengthAdjust="spacingAndGlyphs" text-anchor="middle" font-family="Liberation Mono" >2k</text>
<line x1="1386.5833333333333" y1="636.9" x2="1386.5833333333333" y2="640.9" stroke="#d9d9d9" stroke-width="1" />
<text x="1386.5833333333333" y="650.9" font-size="10.5" fill="#666" textLength="18.1" lengthAdjust="spacingAndGlyphs" text-anchor="middle" font-family="Liberation Mono" >2.5k</text>
<line x1="1482.8" y1="636.9" x2="1482.8" y2="640.9" stroke="#d9d9d9" stroke-width="1" />
<text x="1482.8" y="650.9" font-size="10.5" fill="#666" textLength="10.3" lengthAdjust="spacingAndGlyphs" text-anchor="end" font-family="Liberation Mono" >3k</text>
<text x="902" y="623.0" font-size="10" fill="#606060" textLength="65.9" lengthAdjust="spacingAndGlyphs" text-anchor="end" >Conserve Shoes</text>
<rect x="1482.8" y="436" width="12.2" height="214" fill="#e6e6e6" />
<rect x="1482.8" y="436" width="12.2" height="11.2" fill="#adacab" />
<text x="0" y="0" font-size="9.5" fill="#595959" transform="translate(771.6,571.2) rotate(-90)" textLength="57" lengthAdjust="spacingAndGlyphs">ProductName</text>
<text x="1165.6" y="661.5" font-size="9.5" fill="#595959" textLength="56.5" lengthAdjust="spacingAndGlyphs" >Sales-Current</text>
<rect x="0" y="667" width="747.5" height="8.5" fill="#fff" />
<rect x="0" y="675" width="1500" height="1" fill="#e8e8e8" />
<rect x="0" y="676" width="1500" height="27" fill="#f7f7f7" />
<circle cx="12.5" cy="691" r="4.6" fill="#404040"/><path d="M12.5 688.2 L12.5 691.2 L14.6 692.7" fill="none" stroke="#fff" stroke-width="1.1"/>
<text x="22" y="694.3" font-size="9" fill="#595959" textLength="58" lengthAdjust="spacingAndGlyphs" >Period applied:</text>
<text x="85" y="694.3" font-size="9" fill="#404040" textLength="80" lengthAdjust="spacingAndGlyphs" stroke="#404040" stroke-width="0.35">Quarter comparison</text>
<text x="168" y="694.3" font-size="9" fill="#595959" textLength="46" lengthAdjust="spacingAndGlyphs" >(OrderDate)</text>
<rect x="1347.8" y="679.6" width="40" height="21.3" rx="3" fill="#f9f9f9" stroke="#c6c6c6" stroke-width="1.2"/>
<text x="1356.4" y="694" font-size="9.6" fill="#505050" font-weight="bold" textLength="23.5" lengthAdjust="spacingAndGlyphs" >Close</text>
<rect x="1395.3" y="679.6" width="91.3" height="21.3" rx="3" fill="#f9f9f9" stroke="#c6c6c6" stroke-width="1.2"/>
<text x="1403.6" y="694" font-size="9.6" fill="#505050" font-weight="bold" textLength="75.5" lengthAdjust="spacingAndGlyphs" >Add to new sheet</text>
</svg>
</body></html>
